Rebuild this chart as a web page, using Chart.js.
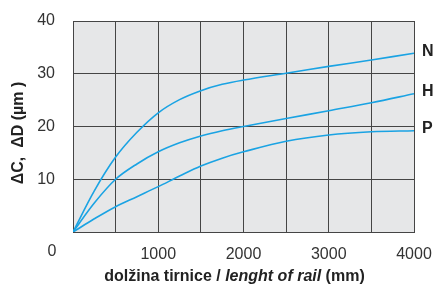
<!DOCTYPE html>
<html><head><meta charset="utf-8">
<script src="https://cdn.jsdelivr.net/npm/chart.js@4.4.0/dist/chart.umd.min.js"></script>
<style>html,body{margin:0;padding:0;background:#fff}#wrap{width:436px;height:285px}</style>
</head><body><div id="wrap"><canvas id="c" width="436" height="285"></canvas></div>
<script>
const lengths = [0, 250, 500, 750, 1000, 1250, 1500, 1750, 2000, 2500, 3000, 3500, 4000];
const seriesN = [0, 7.8, 14.2, 18.9, 22.6, 25.1, 26.8, 28.0, 28.8, 30.1, 31.4, 32.6, 33.9];
const seriesH = [0, 5.5, 10.0, 12.9, 15.2, 16.9, 18.2, 19.2, 20.0, 21.5, 23.0, 24.5, 26.2];
const seriesP = [0, 2.5, 4.8, 6.7, 8.6, 10.6, 12.5, 14.0, 15.2, 17.2, 18.4, 19.0, 19.2];
const seriesNames = ['N', 'H', 'P'];
const xTickLabels = [1000, 2000, 3000, 4000];
const yTickLabels = [10, 20, 30, 40];
const originLabel = '0';
const xTitleParts = ['dolžina tirnice / ', 'lenght of rail', ' (mm)'];
const yTitle = 'ΔC,  ΔD (µm )';

const FONT = '"Liberation Sans", Arial, Helvetica, sans-serif';
const LINE = '#1aa3e3';
const GRID = '#454545';

const toPts = arr => arr.map((v, i) => ({ x: lengths[i], y: v }));

const deco = {
  id: 'deco',
  beforeDraw(chart) {
    const { ctx, chartArea: a } = chart;
    ctx.save();
    ctx.fillStyle = '#e6e7e8';
    ctx.fillRect(a.left, a.top, a.right - a.left, a.bottom - a.top);
    ctx.restore();
  },
  afterDraw(chart) {
    const { ctx, chartArea: a, scales } = chart;
    const xs = scales.x, ys = scales.y;
    ctx.save();
    ctx.fillStyle = '#222';
    ctx.font = 'bold 16px ' + FONT;
    ctx.textBaseline = 'middle';
    ctx.textAlign = 'left';
    chart.data.datasets.forEach((ds, i) => {
      const last = ds.data[ds.data.length - 1];
      ctx.fillText(seriesNames[i], a.right + 8, ys.getPixelForValue(last.y) - 2);
    });
    ctx.fillStyle = '#333';
    ctx.font = '16px ' + FONT;
    ctx.textAlign = 'center';
    ctx.fillText(originLabel, xs.getPixelForValue(0) - 21, a.bottom + 20);
    const fonts = ['bold 16px ' + FONT, 'italic bold 16px ' + FONT, 'bold 16px ' + FONT];
    const widths = xTitleParts.map((t, i) => { ctx.font = fonts[i]; return ctx.measureText(t).width; });
    const total = widths.reduce((s, w) => s + w, 0);
    let x = (a.left + a.right) / 2 - 9 - total / 2;
    ctx.fillStyle = '#222';
    ctx.textAlign = 'left';
    xTitleParts.forEach((t, i) => { ctx.font = fonts[i]; ctx.fillText(t, x, 277); x += widths[i]; });
    ctx.translate(19, 133);
    ctx.rotate(-Math.PI / 2);
    ctx.font = 'bold 16px ' + FONT;
    ctx.textAlign = 'center';
    ctx.fillText(yTitle, 0, 0);
    ctx.restore();
  }
};

const mkDs = (label, data) => ({
  label, data: toPts(data), borderColor: LINE, borderWidth: 1.6,
  pointRadius: 0, fill: false, tension: 0.35
});

new Chart(document.getElementById('c'), {
  type: 'line',
  data: { datasets: [mkDs('N', seriesN), mkDs('H', seriesH), mkDs('P', seriesP)] },
  options: {
    responsive: false, animation: false, devicePixelRatio: 1,
    layout: { padding: { left: 0, right: 22, top: 21, bottom: 0 } },
    plugins: { legend: { display: false }, tooltip: { enabled: false } },
    scales: {
      x: {
        type: 'linear', min: 0, max: 4000,
        afterFit: s => { s.height = 53; s.paddingLeft = 0; s.paddingRight = 0; },
        grid: { color: GRID, lineWidth: 1, drawTicks: false },
        border: { color: GRID },
        ticks: {
          stepSize: 500, padding: 13, color: '#333', font: { family: FONT, size: 16 },
          maxRotation: 0, autoSkip: false,
          callback: v => xTickLabels.includes(v) ? String(v) : ''
        }
      },
      y: {
        min: 0, max: 40,
        afterFit: s => { s.width = 73; s.paddingTop = 0; s.paddingBottom = 0; },
        grid: { color: GRID, lineWidth: 1, drawTicks: false },
        border: { color: GRID },
        ticks: {
          stepSize: 10, padding: 18, color: '#333', font: { family: FONT, size: 16 },
          callback: v => yTickLabels.includes(v) ? String(v) : ''
        }
      }
    }
  },
  plugins: [deco]
});
</script></body></html>
